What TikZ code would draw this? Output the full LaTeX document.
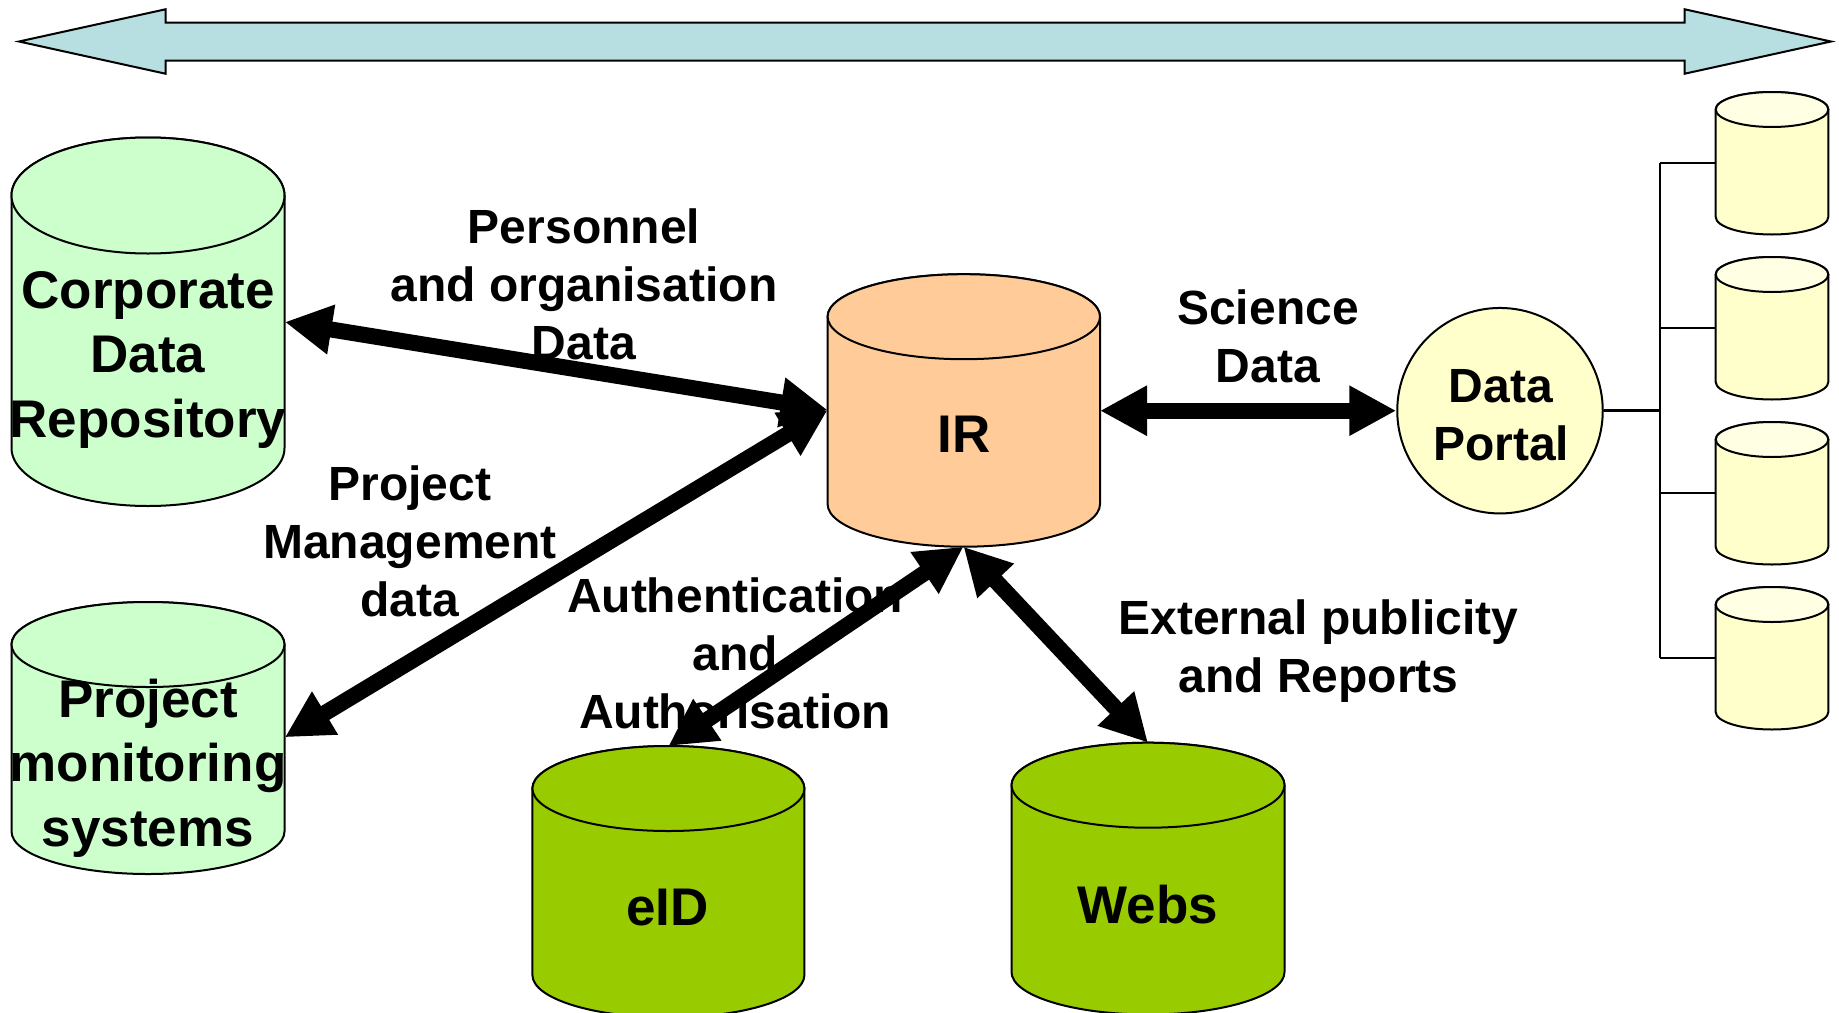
\documentclass[tikz,border=0pt]{standalone}
\usepackage{fontspec}
\setmainfont{Liberation Sans}
\usetikzlibrary{arrows.meta}
\definecolor{barblue}{RGB}{183,222,224}
\definecolor{lgreen}{RGB}{204,255,204}
\definecolor{irorange}{RGB}{255,204,153}
\definecolor{dgreen}{RGB}{153,204,0}
\definecolor{lyellow}{RGB}{255,255,204}
\definecolor{lyellowtop}{RGB}{255,255,228}
% cx, top centre y, bottom centre y, rx, ry, body fill, top fill
\newcommand{\dbcyl}[7]{%
  \filldraw[cylline,fill=#6] (#1-#4,#2) -- (#1-#4,#3)
    arc[start angle=180,end angle=360,x radius=#4pt,y radius=#5pt]
    -- (#1+#4,#2)
    arc[start angle=0,end angle=180,x radius=#4pt,y radius=#5pt] -- cycle;
  \filldraw[cylline,fill=#7] (#1,#2) ellipse[x radius=#4pt,y radius=#5pt];}
\begin{document}
\begin{tikzpicture}[x=1pt,y=-1pt,
  cylline/.style={draw=black,line width=2pt},
  treeline/.style={draw=black,line width=2.5pt},
  cyltext/.style={font=\fontsize{53}{64.5}\selectfont\bfseries,align=center,inner sep=0pt},
  lbl/.style={font=\fontsize{48}{58}\selectfont\bfseries,align=center,inner sep=0pt},
  bigarrow/.style={line width=16pt,>={Triangle[length=47pt,width=47pt]},<->}]
\clip (0,0) rectangle (1839,1012);
\fill[white] (0,0) rectangle (1839,1012);
% top double arrow
\filldraw[fill=barblue,draw=black,line width=2pt,line join=miter]
  (19,41.5) -- (165.5,9.3) -- (165.5,22.5) -- (1684.7,22.5) -- (1684.7,9.3)
  -- (1831,41.5) -- (1684.7,73.7) -- (1684.7,60.5) -- (165.5,60.5)
  -- (165.5,73.7) -- cycle;
% cylinders
\dbcyl{148}{195.5}{448}{136.5}{58}{lgreen}{lgreen}
\dbcyl{148}{644.5}{831.5}{136.5}{42.5}{lgreen}{lgreen}
\dbcyl{963.8}{316.7}{504.2}{136.2}{42.5}{irorange}{irorange}
\dbcyl{668.4}{788.5}{975}{136}{42.5}{dgreen}{dgreen}
\dbcyl{1148}{785.2}{972}{136.5}{42.5}{dgreen}{dgreen}
\dbcyl{1772}{109.5}{217}{56.3}{17.5}{lyellow}{lyellowtop}
\dbcyl{1772}{274.5}{382}{56.3}{17.5}{lyellow}{lyellowtop}
\dbcyl{1772}{439.5}{547}{56.3}{17.5}{lyellow}{lyellowtop}
\dbcyl{1772}{604.5}{712}{56.3}{17.5}{lyellow}{lyellowtop}
% data portal
\node[circle,draw=black,line width=2pt,fill=lyellow,minimum size=205.5pt,inner sep=0pt] (portal) at (1500,410.7) {};
\node[lbl] (portaltext) at (1501,415) {Data\\Portal};
% tree
\coordinate (tv1) at (1660,163);
\coordinate (tv2) at (1660,328);
\coordinate (tv3) at (1660,493);
\coordinate (tv4) at (1660,658);
\coordinate (tvp) at (1660,410.7);
\coordinate (s1) at (1715.7,163);
\coordinate (s2) at (1715.7,328);
\coordinate (s3) at (1715.7,493);
\coordinate (s4) at (1715.7,658);
\draw[treeline] (tv1) -- (tv4);
\draw[treeline] (portal.east) -- (tvp);
\draw[treeline] (tv1) -- (s1);
\draw[treeline] (tv2) -- (s2);
\draw[treeline] (tv3) -- (s3);
\draw[treeline] (tv4) -- (s4);
% texts in cylinders
\node[cyltext] (cdr) at (148,359.5) {Corporate\\Data\\Repository};
\node[cyltext] (pms) at (148,768) {Project\\monitoring\\systems};
\node[cyltext] (ir) at (964,434) {IR};
\node[cyltext] (eid) at (667.5,907.5) {eID};
\node[cyltext] (webs) at (1148,904.5) {Webs};
% labels
\node[lbl] (pers) at (584,284) {Personnel\\and organisation\\Data};
\node[lbl] (pmd) at (410,541.5) {Project\\Management\\data};
\node[lbl] (auth) at (735,653) {Authentication\\and\\Authorisation};
\node[lbl] (sci) at (1268,336.5) {Science\\Data};
\node[lbl] (ext) at (1318.5,651.5) {External publicity\\and Reports};
% connector end points
\coordinate (cdrE) at (284.8,322);
\coordinate (pmsE) at (284.8,737.3);
\coordinate (irW) at (827.7,410);
\coordinate (irE) at (1100,410.7);
\coordinate (irS) at (963.5,546.7);
\coordinate (eidN) at (668.4,746);
\coordinate (websN) at (1148,742.7);
% arrows
\draw[bigarrow] (cdrE) -- (irW);
\draw[bigarrow] (pmsE) -- (irW);
\draw[bigarrow] (eidN) -- (irS);
\draw[bigarrow] (websN) -- (irS);
\draw[bigarrow] (irE) -- (portal.west);
\end{tikzpicture}
\end{document}
